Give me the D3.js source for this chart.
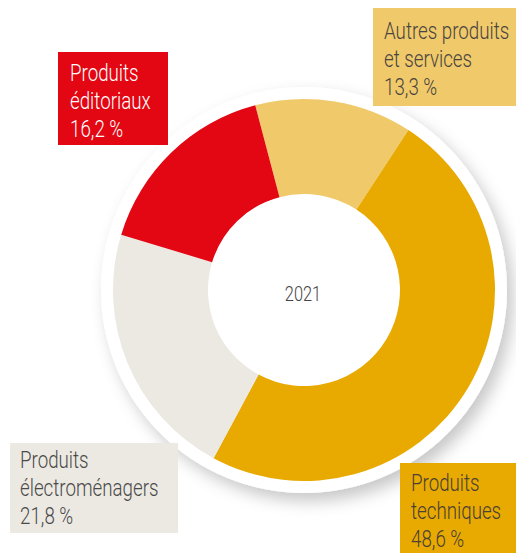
<!DOCTYPE html>
<html>
<head>
<meta charset="utf-8">
<script src="https://cdn.jsdelivr.net/npm/d3@7"></script>
<style>
  body { margin: 0; background: #fff; }
  svg text { font-family: Roboto, "Liberation Sans", sans-serif; font-weight: 300; }
</style>
</head>
<body>
<svg id="chart"></svg>
<script>
var width = 516,
  height = 553;

// data, clockwise from the top-left boundary
var categories = ['Autres produits et services', 'Produits techniques', 'Produits électroménagers', 'Produits éditoriaux'];
var labelLines = [['Autres produits', 'et services'], ['Produits', 'techniques'], ['Produits', 'électroménagers'], ['Produits', 'éditoriaux']];
var shares = [13.3, 48.6, 21.8, 16.2];
var colors = ['#f0ca6a', '#e8aa00', '#ece9e2', '#e30613'];
var textColors = ['#4a4440', '#4a4035', '#4a4a4a', '#ffffff'];
var year = '2021';

// where the label boxes sit (tx, ty = first baseline inside the box)
var boxes = [
  { x: 373, y: 8, w: 143, h: 98, tx: 11, ty: 31 },
  { x: 400, y: 463, w: 116, h: 90, tx: 11, ty: 28 },
  { x: 10, y: 443, w: 168, h: 90, tx: 10, ty: 25 },
  { x: 58, y: 52, w: 110, h: 93, tx: 12, ty: 29 }
];

var cx = 304, cy = 290;
var outerR = 191, innerR = 96, ringR = 203;

var svg = d3.select('#chart')
  .attr('width', width)
  .attr('height', height);

var defs = svg.append('defs');
var shadow = defs.append('filter')
  .attr('id', 'shadow')
  .attr('x', '-20%').attr('y', '-20%')
  .attr('width', '150%').attr('height', '150%');
shadow.append('feDropShadow')
  .attr('dx', 6)
  .attr('dy', 8)
  .attr('stdDeviation', 8)
  .attr('flood-color', '#000')
  .attr('flood-opacity', 0.22);

var g = svg.append('g')
  .attr('transform', 'translate(' + cx + ',' + cy + ')');

g.append('circle')
  .attr('r', ringR)
  .attr('fill', '#fff')
  .attr('filter', 'url(#shadow)');

var startAngle = -14.8 * Math.PI / 180;

var pie = d3.pie()
  .sort(null)
  .value(function(d) { return d; })
  .startAngle(startAngle)
  .endAngle(startAngle + 2 * Math.PI);

var arc = d3.arc()
  .innerRadius(innerR)
  .outerRadius(outerR);

g.selectAll('path')
  .data(pie(shares))
  .enter().append('path')
  .attr('d', arc)
  .attr('fill', function(d, i) { return colors[i]; });

g.append('text')
  .attr('text-anchor', 'middle')
  .attr('transform', 'translate(-1,11) scale(0.82,1)')
  .attr('fill', '#444')
  .attr('font-size', 20)
  .text(year);

var fmt = function(v) { return v.toFixed(1).replace('.', ',') + ' %'; };

var labels = svg.selectAll('g.label')
  .data(categories)
  .enter().append('g')
  .attr('class', 'label')
  .attr('transform', function(d, i) { return 'translate(' + boxes[i].x + ',' + boxes[i].y + ')'; });

labels.append('rect')
  .attr('width', function(d, i) { return boxes[i].w; })
  .attr('height', function(d, i) { return boxes[i].h; })
  .attr('fill', function(d, i) { return colors[i]; });

labels.each(function(d, i) {
  var b = boxes[i];
  var lines = labelLines[i].concat([fmt(shares[i])]);
  d3.select(this).selectAll('text')
    .data(lines)
    .enter().append('text')
    .attr('transform', function(t, j) { return 'translate(' + b.tx + ',' + (b.ty + j * 28) + ') scale(0.815,1)'; })
    .attr('font-size', 23)
    .attr('fill', textColors[i])
    .text(function(t) { return t; });
});
</script>
</body>
</html>
